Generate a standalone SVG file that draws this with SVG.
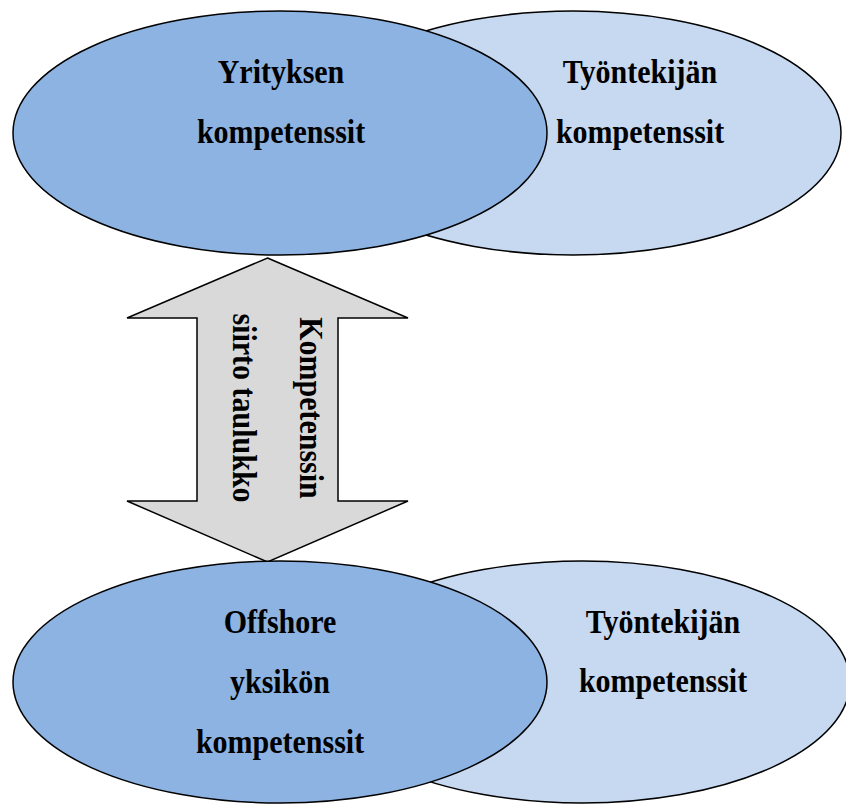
<svg xmlns="http://www.w3.org/2000/svg" width="846" height="805" viewBox="0 0 846 805">
<style>
.dark{fill:#8DB3E2;stroke:#000;stroke-width:1.5}
.light{fill:#C6D9F1;stroke:#000;stroke-width:1.5}
.arrow{fill:#D9D9D9;stroke:#000;stroke-width:1.5;stroke-linejoin:miter}
.t{font-family:"Liberation Serif","Times New Roman",serif;font-weight:bold;font-size:30px;fill:#000;text-anchor:middle}
</style>
<rect width="846" height="805" fill="#fff"/>
<g id="connectors">
<g id="transfer-arrow">
<polygon class="arrow" points="267.5,258 408,318 338,318 338,501 408,501 267.5,562 127,501 197,501 197,318 127,318"/>
<text class="t" transform="translate(300,408) rotate(90) scale(1,1.1)">Kompetenssin</text>
<text class="t" transform="translate(233,408) rotate(90) scale(1,1.1)">siirto taulukko</text>
</g>
</g>
<g id="top-employee">
<ellipse class="light" cx="573" cy="133" rx="268" ry="122"/>
<text class="t" transform="translate(640,83) scale(1,1.1)">Työntekijän</text>
<text class="t" transform="translate(640,143) scale(1,1.1)">kompetenssit</text>
</g>
<g id="top-company">
<ellipse class="dark" cx="280" cy="133" rx="267" ry="122"/>
<text class="t" transform="translate(281,83) scale(1,1.1)">Yrityksen</text>
<text class="t" transform="translate(281,143) scale(1,1.1)">kompetenssit</text>
</g>
<g id="bottom-employee">
<ellipse class="light" cx="582" cy="682" rx="268" ry="121"/>
<text class="t" transform="translate(663,633) scale(1,1.1)">Työntekijän</text>
<text class="t" transform="translate(663,692) scale(1,1.1)">kompetenssit</text>
</g>
<g id="bottom-offshore">
<ellipse class="dark" cx="280" cy="682" rx="267" ry="121"/>
<text class="t" transform="translate(280,633) scale(1,1.1)">Offshore</text>
<text class="t" transform="translate(280,693) scale(1,1.1)">yksikön</text>
<text class="t" transform="translate(280,753) scale(1,1.1)">kompetenssit</text>
</g>
</svg>
